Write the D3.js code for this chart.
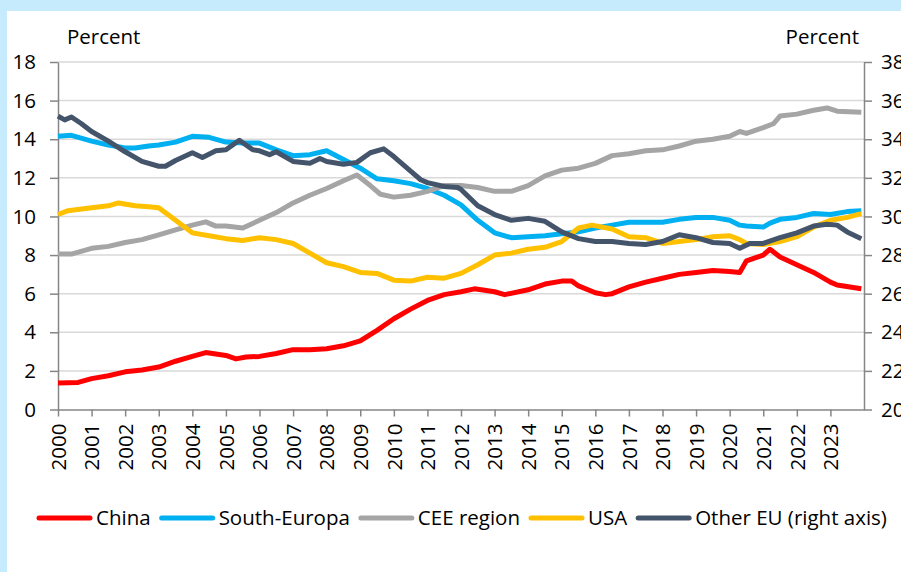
<!DOCTYPE html>
<html lang="en">
<head>
<meta charset="utf-8">
<title>Market shares</title>
<style>
  html, body { margin: 0; padding: 0; background: #c6ebfc; }
  #chart { position: absolute; left: 7px; top: 11px; width: 894px; height: 561px; background: #fff; overflow: hidden; }
  svg { position: absolute; left: 0; top: 0; }
  text { font-family: "Open Sans", sans-serif; fill: #000; }
  .grid line { stroke: #d9d9d9; stroke-width: 1.5; }
  .axis path, .axis line { stroke: #868686; stroke-width: 1.5; }
</style>
</head>
<body>
<div id="chart"></div>
<script src="https://cdn.jsdelivr.net/npm/d3@7"></script>
<script>
// series as [year, value] pairs
var china = [[2000,1.37],[2000.6,1.4],[2001,1.6],[2001.5,1.75],[2002,1.95],[2002.5,2.05],[2003,2.2],[2003.5,2.5],[2004,2.75],[2004.4,2.95],[2005,2.8],[2005.3,2.62],[2005.6,2.72],[2006,2.75],[2006.5,2.9],[2007,3.1],[2007.5,3.1],[2008,3.15],[2008.5,3.3],[2009,3.55],[2009.5,4.1],[2010,4.7],[2010.5,5.2],[2011,5.65],[2011.5,5.95],[2012,6.1],[2012.4,6.25],[2013,6.1],[2013.3,5.95],[2014,6.2],[2014.5,6.5],[2015,6.65],[2015.3,6.65],[2015.5,6.4],[2016,6.05],[2016.3,5.95],[2016.5,6.0],[2017,6.35],[2017.5,6.6],[2018,6.8],[2018.5,7.0],[2019,7.1],[2019.5,7.2],[2020,7.15],[2020.3,7.1],[2020.5,7.7],[2021,8.0],[2021.2,8.3],[2021.5,7.9],[2022,7.5],[2022.5,7.1],[2023,6.6],[2023.2,6.45],[2023.92,6.25]];
var southEuropa = [[2000,14.15],[2000.4,14.2],[2001,13.9],[2001.5,13.7],[2002,13.55],[2002.3,13.55],[2002.7,13.65],[2003,13.7],[2003.5,13.85],[2004,14.15],[2004.5,14.1],[2005,13.85],[2005.5,13.8],[2006,13.8],[2006.5,13.45],[2007,13.15],[2007.5,13.2],[2008,13.4],[2008.5,12.95],[2009,12.5],[2009.5,11.95],[2010,11.85],[2010.5,11.7],[2011,11.45],[2011.5,11.1],[2012,10.6],[2012.5,9.8],[2013,9.15],[2013.5,8.9],[2014,8.95],[2014.5,9.0],[2015,9.1],[2015.5,9.2],[2016,9.4],[2016.5,9.55],[2017,9.7],[2017.5,9.7],[2018,9.7],[2018.5,9.85],[2019,9.95],[2019.5,9.95],[2020,9.8],[2020.3,9.55],[2020.5,9.5],[2021,9.45],[2021.2,9.65],[2021.5,9.85],[2022,9.95],[2022.5,10.15],[2023,10.1],[2023.5,10.25],[2023.92,10.3]];
var cee = [[2000,8.05],[2000.4,8.05],[2001,8.35],[2001.5,8.45],[2002,8.65],[2002.5,8.8],[2003,9.05],[2003.5,9.3],[2004,9.55],[2004.4,9.72],[2004.7,9.5],[2005,9.5],[2005.5,9.4],[2006,9.8],[2006.5,10.2],[2007,10.7],[2007.5,11.1],[2008,11.45],[2008.5,11.85],[2008.9,12.15],[2009.3,11.6],[2009.6,11.15],[2010,11.0],[2010.5,11.1],[2011,11.3],[2011.5,11.6],[2012,11.6],[2012.5,11.5],[2013,11.3],[2013.5,11.3],[2014,11.6],[2014.5,12.1],[2015,12.4],[2015.5,12.5],[2016,12.75],[2016.5,13.15],[2017,13.25],[2017.5,13.4],[2018,13.45],[2018.5,13.65],[2019,13.9],[2019.5,14.0],[2020,14.15],[2020.3,14.4],[2020.5,14.3],[2021,14.6],[2021.3,14.8],[2021.5,15.2],[2022,15.3],[2022.5,15.5],[2022.9,15.62],[2023.2,15.45],[2023.92,15.4]];
var usa = [[2000,10.1],[2000.3,10.3],[2001,10.45],[2001.5,10.55],[2001.8,10.7],[2002.3,10.55],[2002.7,10.5],[2003,10.45],[2003.5,9.8],[2004,9.15],[2004.5,9.0],[2005,8.85],[2005.5,8.75],[2006,8.9],[2006.5,8.8],[2007,8.6],[2007.5,8.1],[2008,7.6],[2008.5,7.4],[2009,7.1],[2009.5,7.05],[2010,6.7],[2010.5,6.65],[2011,6.85],[2011.5,6.8],[2012,7.05],[2012.5,7.5],[2013,8.0],[2013.5,8.1],[2014,8.3],[2014.5,8.4],[2015,8.7],[2015.5,9.4],[2015.9,9.55],[2016.5,9.35],[2017,8.95],[2017.5,8.9],[2018,8.6],[2018.5,8.7],[2019,8.8],[2019.5,8.95],[2020,9.0],[2020.3,8.8],[2020.5,8.6],[2021,8.55],[2021.5,8.7],[2022,8.95],[2022.5,9.45],[2023,9.8],[2023.5,9.95],[2023.92,10.15]];
var otherEU = [[2000,35.2],[2000.2,35.0],[2000.4,35.15],[2000.7,34.8],[2001,34.4],[2001.5,33.9],[2002,33.35],[2002.5,32.85],[2003,32.6],[2003.2,32.6],[2003.5,32.9],[2004,33.3],[2004.3,33.05],[2004.7,33.4],[2005,33.45],[2005.4,33.95],[2005.8,33.45],[2006,33.4],[2006.3,33.2],[2006.5,33.35],[2007,32.85],[2007.5,32.75],[2007.8,33.0],[2008,32.85],[2008.5,32.7],[2008.9,32.8],[2009.3,33.3],[2009.7,33.5],[2010,33.1],[2010.5,32.35],[2010.8,31.9],[2011,31.75],[2011.5,31.55],[2011.9,31.5],[2012,31.4],[2012.5,30.55],[2013,30.1],[2013.5,29.8],[2014,29.9],[2014.5,29.75],[2015,29.2],[2015.5,28.85],[2016,28.7],[2016.5,28.7],[2017,28.6],[2017.5,28.55],[2018,28.7],[2018.5,29.05],[2019,28.9],[2019.5,28.65],[2020,28.6],[2020.3,28.35],[2020.6,28.6],[2021,28.6],[2021.5,28.9],[2022,29.15],[2022.5,29.5],[2022.9,29.6],[2023.2,29.55],[2023.5,29.2],[2023.92,28.85]];

var years = d3.range(2000, 2024);
var leftTicks = [0, 2, 4, 6, 8, 10, 12, 14, 16, 18];
var rightTicks = [20, 22, 24, 26, 28, 30, 32, 34, 36, 38];

var series = [
  { name: "China", data: china, color: "#ff0000", axis: "left" },
  { name: "South-Europa", data: southEuropa, color: "#00b0f0", axis: "left" },
  { name: "CEE region", data: cee, color: "#a5a5a5", axis: "left" },
  { name: "USA", data: usa, color: "#ffc000", axis: "left" },
  { name: "Other EU (right axis)", data: otherEU, color: "#44546a", axis: "right" }
];

// chart div is offset by (7, 11) inside the page, draw in page coords
var ox = -7, oy = -11;
var fs = "20.5px";

var svg = d3.select("#chart").append("svg")
    .attr("width", 894)
    .attr("height", 561);

var g = svg.append("g").attr("transform", "translate(" + ox + "," + oy + ")");

var x = d3.scaleLinear().domain([2000, 2024]).range([58, 864]);
var yL = d3.scaleLinear().domain([0, 18]).range([409.5, 62]);
var yR = d3.scaleLinear().domain([20, 38]).range([409.5, 62]);

// gridlines
g.append("g").attr("class", "grid")
  .selectAll("line")
  .data(leftTicks.slice(1))
  .enter().append("line")
    .attr("x1", x(2000)).attr("x2", x(2024))
    .attr("y1", function(d) { return yL(d); })
    .attr("y2", function(d) { return yL(d); });

// left axis
var leftAxis = g.append("g").attr("class", "axis")
    .attr("transform", "translate(" + x(2000) + ",0)")
    .call(d3.axisLeft(yL).tickValues(leftTicks).tickSize(8).tickSizeOuter(0).tickPadding(14));
leftAxis.selectAll("text").style("font-size", fs);

// right axis (labels run off the frame edge as in the original)
var rightAxis = g.append("g").attr("class", "axis")
    .attr("transform", "translate(" + x(2024) + ",0)")
    .call(d3.axisRight(yR).tickValues(rightTicks).tickSize(8).tickSizeOuter(0).tickPadding(9));
rightAxis.selectAll("text").style("font-size", fs);

// bottom axis
var bottomAxis = g.append("g").attr("class", "axis")
    .attr("transform", "translate(0," + yL(0) + ")")
    .call(d3.axisBottom(x).tickValues(years).tickSize(7).tickSizeOuter(0).tickFormat(d3.format("d")));
bottomAxis.selectAll("text")
    .style("font-size", fs)
    .attr("transform", "rotate(-90)")
    .attr("text-anchor", "end")
    .attr("dy", "0.35em")
    .attr("x", -14)
    .attr("y", 0);

// axis titles
g.append("text").attr("x", 67).attr("y", 44).style("font-size", fs).text("Percent");
g.append("text").attr("x", 859).attr("y", 44).attr("text-anchor", "end").style("font-size", fs).text("Percent");

// lines
series.forEach(function(s) {
  var yScale = s.axis === "left" ? yL : yR;
  var line = d3.line()
      .x(function(d) { return x(d[0]); })
      .y(function(d) { return yScale(d[1]); });
  g.append("path")
    .datum(s.data)
    .attr("fill", "none")
    .attr("stroke", s.color)
    .attr("stroke-width", 5)
    .attr("stroke-linejoin", "round")
    .attr("d", line);
});

// legend
var lx = 37, ly = 518;
series.forEach(function(s) {
  g.append("line")
    .attr("x1", lx + 2).attr("x2", lx + 53)
    .attr("y1", ly).attr("y2", ly)
    .attr("stroke", s.color)
    .attr("stroke-width", 5)
    .attr("stroke-linecap", "round");
  var t = g.append("text")
    .attr("x", lx + 59).attr("y", ly)
    .attr("dy", "0.35em")
    .style("font-size", fs)
    .text(s.name);
  lx += 59 + t.node().getComputedTextLength() + 9;
});
</script>
</body>
</html>
